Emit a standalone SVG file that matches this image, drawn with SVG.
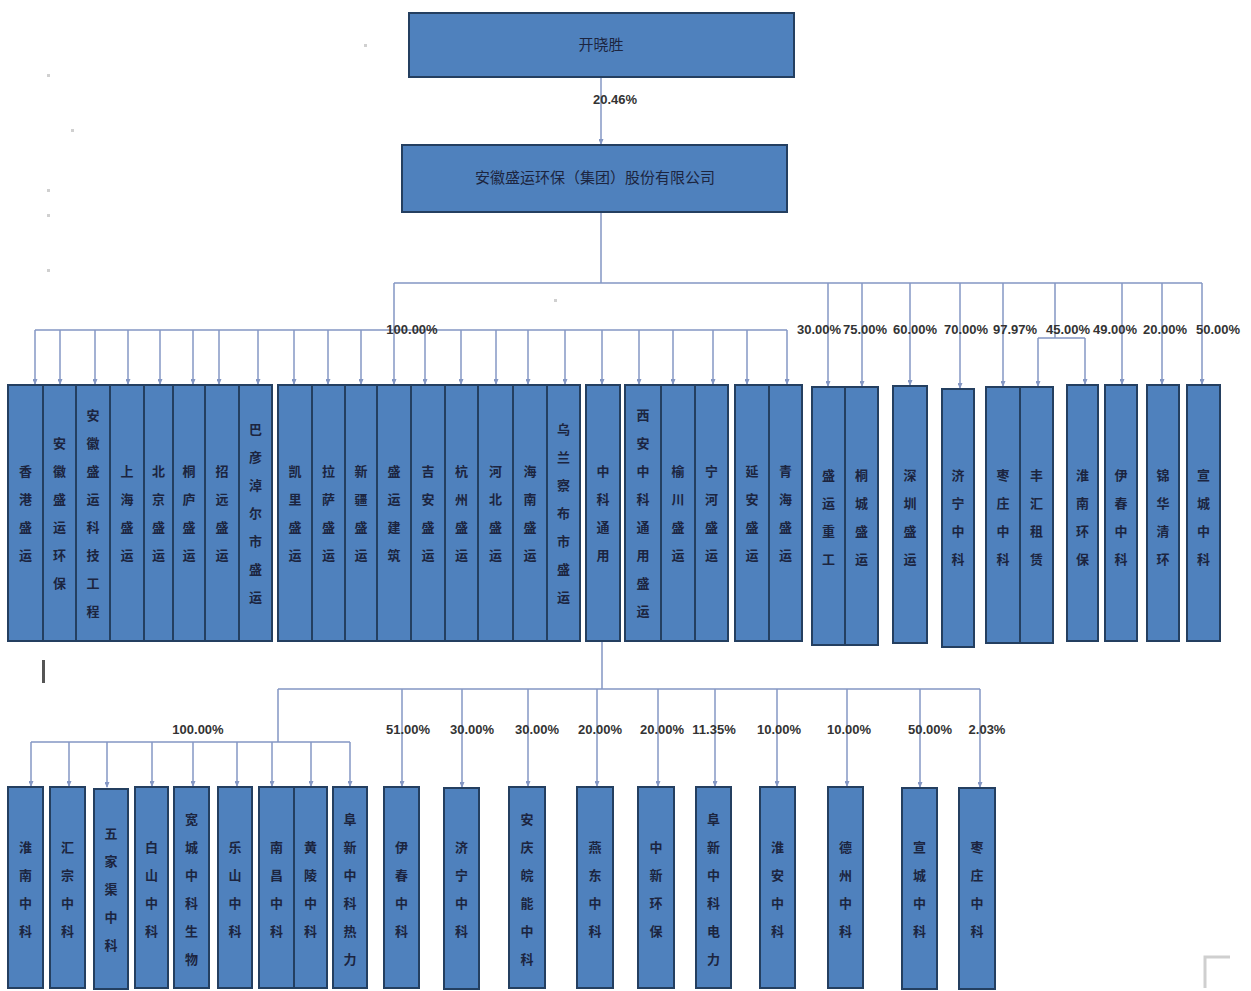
<svg xmlns="http://www.w3.org/2000/svg" width="1251" height="991" viewBox="0 0 1251 991">
<style>
.b{fill:#4f81bd;stroke:#243f60;stroke-width:2}
.t{font-family:"Noto Sans CJK SC","Noto Sans",sans-serif;font-size:15px;fill:#1c2540}
.v{font-family:"Noto Sans CJK SC","Noto Sans",sans-serif;font-size:13px;font-weight:bold;fill:#1c2540;text-anchor:middle;dominant-baseline:central}
.p{font-family:"Liberation Sans",Arial,sans-serif;font-size:13px;font-weight:bold;fill:#333;text-anchor:middle}
.c{fill:none;stroke:#8497c4;stroke-width:1.5}
.m{fill:#d0d0d0}
</style>
<defs>
<marker id="a" markerWidth="6" markerHeight="5" refX="5" refY="2.5" orient="auto" markerUnits="userSpaceOnUse">
<path d="M0,0 L6,2.5 L0,5 z" fill="#8497c4"/>
</marker>
</defs>
<rect width="1251" height="991" fill="#fff"/>
<g id="marks">
<rect class="m" x="47" y="74" width="3" height="3"/>
<rect class="m" x="71" y="129" width="3" height="3"/>
<rect class="m" x="47" y="189" width="3" height="3"/>
<rect class="m" x="47" y="214" width="3" height="3"/>
<rect class="m" x="47" y="269" width="3" height="3"/>
<rect class="m" x="364" y="44" width="3" height="3"/>
<rect class="m" x="554" y="299" width="3" height="3"/>
<rect x="42" y="660" width="3" height="23" fill="#555"/>
<path d="M1205,988 V957 H1230" fill="none" stroke="#cfcfcf" stroke-width="3"/>
</g>
<g id="connectors">
<path class="c" d="M601,77 V144" marker-end="url(#a)"/>
<path class="c" d="M601,212 V283 M394,283 H1202 M394,283 V330 M35,330 H787"/>
<g marker-end="url(#a)">
<path class="c" d="M35,330 V384"/><path class="c" d="M60,330 V384"/><path class="c" d="M95,330 V384"/><path class="c" d="M128,330 V384"/><path class="c" d="M160,330 V384"/><path class="c" d="M193,330 V384"/><path class="c" d="M219,330 V384"/><path class="c" d="M258,330 V384"/><path class="c" d="M294,330 V384"/><path class="c" d="M328,330 V384"/><path class="c" d="M361,330 V384"/><path class="c" d="M394,330 V384"/><path class="c" d="M425,330 V384"/><path class="c" d="M461,330 V384"/><path class="c" d="M496,330 V384"/><path class="c" d="M528,330 V384"/><path class="c" d="M565,330 V384"/><path class="c" d="M602,330 V384"/><path class="c" d="M639,330 V384"/><path class="c" d="M673,330 V384"/><path class="c" d="M713,330 V384"/><path class="c" d="M747,330 V384"/><path class="c" d="M787,330 V384"/>
<path class="c" d="M828,283 V386"/><path class="c" d="M862,283 V386"/><path class="c" d="M910,283 V385"/><path class="c" d="M960,283 V388"/><path class="c" d="M1003,283 V386"/><path class="c" d="M1122,283 V384"/><path class="c" d="M1162,283 V384"/><path class="c" d="M1202,283 V384"/>
<path class="c" d="M1038,338 V386"/><path class="c" d="M1085,338 V384"/>
</g>
<path class="c" d="M1055,283 V338 M1038,338 H1085"/>
<path class="c" d="M602,641 V689 M278,689 H980 M278,689 V742 M31,742 H350"/>
<g marker-end="url(#a)">
<path class="c" d="M31,742 V786"/><path class="c" d="M69,742 V786"/><path class="c" d="M107,742 V787"/><path class="c" d="M152,742 V786"/><path class="c" d="M193,742 V786"/><path class="c" d="M237,742 V786"/><path class="c" d="M272,742 V786"/><path class="c" d="M311,742 V786"/><path class="c" d="M350,742 V786"/>
<path class="c" d="M402,689 V786"/><path class="c" d="M462,689 V787"/><path class="c" d="M528,689 V786"/><path class="c" d="M597,689 V786"/><path class="c" d="M658,689 V786"/><path class="c" d="M715,689 V786"/><path class="c" d="M777,689 V786"/><path class="c" d="M847,689 V786"/><path class="c" d="M920,689 V787"/><path class="c" d="M980,689 V787"/>
</g>
</g>
<g id="labels">
<text class="p" x="615" y="104">20.46%</text>
<text class="p" x="412" y="334">100.00%</text>
<text class="p" x="819" y="334">30.00%</text>
<text class="p" x="865" y="334">75.00%</text>
<text class="p" x="915" y="334">60.00%</text>
<text class="p" x="966" y="334">70.00%</text>
<text class="p" x="1015" y="334">97.97%</text>
<text class="p" x="1068" y="334">45.00%</text>
<text class="p" x="1115" y="334">49.00%</text>
<text class="p" x="1165" y="334">20.00%</text>
<text class="p" x="1218" y="334">50.00%</text>
<text class="p" x="198" y="734">100.00%</text>
<text class="p" x="408" y="734">51.00%</text>
<text class="p" x="472" y="734">30.00%</text>
<text class="p" x="537" y="734">30.00%</text>
<text class="p" x="600" y="734">20.00%</text>
<text class="p" x="662" y="734">20.00%</text>
<text class="p" x="714" y="734">11.35%</text>
<text class="p" x="779" y="734">10.00%</text>
<text class="p" x="849" y="734">10.00%</text>
<text class="p" x="930" y="734">50.00%</text>
<text class="p" x="987" y="734">2.03%</text>
</g>
<g id="n0"><rect class="b" x="409" y="13" width="385" height="64"/><text class="t" x="601" y="50" text-anchor="middle">开晓胜</text></g>
<g id="n1"><rect class="b" x="402" y="145" width="385" height="67"/><text class="t" x="595" y="183" text-anchor="middle">安徽盛运环保（集团）股份有限公司</text></g>
<g id="t1"><rect class="b" x="8" y="385" width="35" height="256"/><text class="v"><tspan x="25.5" y="470">香</tspan><tspan x="25.5" y="498">港</tspan><tspan x="25.5" y="526">盛</tspan><tspan x="25.5" y="554">运</tspan></text></g>
<g id="t2"><rect class="b" x="43" y="385" width="33" height="256"/><text class="v"><tspan x="59.5" y="442">安</tspan><tspan x="59.5" y="470">徽</tspan><tspan x="59.5" y="498">盛</tspan><tspan x="59.5" y="526">运</tspan><tspan x="59.5" y="554">环</tspan><tspan x="59.5" y="582">保</tspan></text></g>
<g id="t3"><rect class="b" x="76" y="385" width="34" height="256"/><text class="v"><tspan x="93" y="414">安</tspan><tspan x="93" y="442">徽</tspan><tspan x="93" y="470">盛</tspan><tspan x="93" y="498">运</tspan><tspan x="93" y="526">科</tspan><tspan x="93" y="554">技</tspan><tspan x="93" y="582">工</tspan><tspan x="93" y="610">程</tspan></text></g>
<g id="t4"><rect class="b" x="110" y="385" width="34" height="256"/><text class="v"><tspan x="127" y="470">上</tspan><tspan x="127" y="498">海</tspan><tspan x="127" y="526">盛</tspan><tspan x="127" y="554">运</tspan></text></g>
<g id="t5"><rect class="b" x="144" y="385" width="29" height="256"/><text class="v"><tspan x="158.5" y="470">北</tspan><tspan x="158.5" y="498">京</tspan><tspan x="158.5" y="526">盛</tspan><tspan x="158.5" y="554">运</tspan></text></g>
<g id="t6"><rect class="b" x="173" y="385" width="32" height="256"/><text class="v"><tspan x="189" y="470">桐</tspan><tspan x="189" y="498">庐</tspan><tspan x="189" y="526">盛</tspan><tspan x="189" y="554">运</tspan></text></g>
<g id="t7"><rect class="b" x="205" y="385" width="34" height="256"/><text class="v"><tspan x="222" y="470">招</tspan><tspan x="222" y="498">远</tspan><tspan x="222" y="526">盛</tspan><tspan x="222" y="554">运</tspan></text></g>
<g id="t8"><rect class="b" x="239" y="385" width="33" height="256"/><text class="v"><tspan x="255.5" y="428">巴</tspan><tspan x="255.5" y="456">彦</tspan><tspan x="255.5" y="484">淖</tspan><tspan x="255.5" y="512">尔</tspan><tspan x="255.5" y="540">市</tspan><tspan x="255.5" y="568">盛</tspan><tspan x="255.5" y="596">运</tspan></text></g>
<g id="t9"><rect class="b" x="278" y="385" width="34" height="256"/><text class="v"><tspan x="295" y="470">凯</tspan><tspan x="295" y="498">里</tspan><tspan x="295" y="526">盛</tspan><tspan x="295" y="554">运</tspan></text></g>
<g id="t10"><rect class="b" x="312" y="385" width="33" height="256"/><text class="v"><tspan x="328.5" y="470">拉</tspan><tspan x="328.5" y="498">萨</tspan><tspan x="328.5" y="526">盛</tspan><tspan x="328.5" y="554">运</tspan></text></g>
<g id="t11"><rect class="b" x="345" y="385" width="32" height="256"/><text class="v"><tspan x="361" y="470">新</tspan><tspan x="361" y="498">疆</tspan><tspan x="361" y="526">盛</tspan><tspan x="361" y="554">运</tspan></text></g>
<g id="t12"><rect class="b" x="377" y="385" width="34" height="256"/><text class="v"><tspan x="394" y="470">盛</tspan><tspan x="394" y="498">运</tspan><tspan x="394" y="526">建</tspan><tspan x="394" y="554">筑</tspan></text></g>
<g id="t13"><rect class="b" x="411" y="385" width="34" height="256"/><text class="v"><tspan x="428" y="470">吉</tspan><tspan x="428" y="498">安</tspan><tspan x="428" y="526">盛</tspan><tspan x="428" y="554">运</tspan></text></g>
<g id="t14"><rect class="b" x="445" y="385" width="33" height="256"/><text class="v"><tspan x="461.5" y="470">杭</tspan><tspan x="461.5" y="498">州</tspan><tspan x="461.5" y="526">盛</tspan><tspan x="461.5" y="554">运</tspan></text></g>
<g id="t15"><rect class="b" x="478" y="385" width="35" height="256"/><text class="v"><tspan x="495.5" y="470">河</tspan><tspan x="495.5" y="498">北</tspan><tspan x="495.5" y="526">盛</tspan><tspan x="495.5" y="554">运</tspan></text></g>
<g id="t16"><rect class="b" x="513" y="385" width="34" height="256"/><text class="v"><tspan x="530" y="470">海</tspan><tspan x="530" y="498">南</tspan><tspan x="530" y="526">盛</tspan><tspan x="530" y="554">运</tspan></text></g>
<g id="t17"><rect class="b" x="547" y="385" width="33" height="256"/><text class="v"><tspan x="563.5" y="428">乌</tspan><tspan x="563.5" y="456">兰</tspan><tspan x="563.5" y="484">察</tspan><tspan x="563.5" y="512">布</tspan><tspan x="563.5" y="540">市</tspan><tspan x="563.5" y="568">盛</tspan><tspan x="563.5" y="596">运</tspan></text></g>
<g id="t18"><rect class="b" x="586" y="385" width="34" height="256"/><text class="v"><tspan x="603" y="470">中</tspan><tspan x="603" y="498">科</tspan><tspan x="603" y="526">通</tspan><tspan x="603" y="554">用</tspan></text></g>
<g id="t19"><rect class="b" x="625" y="385" width="36" height="256"/><text class="v"><tspan x="643" y="414">西</tspan><tspan x="643" y="442">安</tspan><tspan x="643" y="470">中</tspan><tspan x="643" y="498">科</tspan><tspan x="643" y="526">通</tspan><tspan x="643" y="554">用</tspan><tspan x="643" y="582">盛</tspan><tspan x="643" y="610">运</tspan></text></g>
<g id="t20"><rect class="b" x="661" y="385" width="34" height="256"/><text class="v"><tspan x="678" y="470">榆</tspan><tspan x="678" y="498">川</tspan><tspan x="678" y="526">盛</tspan><tspan x="678" y="554">运</tspan></text></g>
<g id="t21"><rect class="b" x="695" y="385" width="33" height="256"/><text class="v"><tspan x="711.5" y="470">宁</tspan><tspan x="711.5" y="498">河</tspan><tspan x="711.5" y="526">盛</tspan><tspan x="711.5" y="554">运</tspan></text></g>
<g id="t22"><rect class="b" x="735" y="385" width="34" height="256"/><text class="v"><tspan x="752" y="470">延</tspan><tspan x="752" y="498">安</tspan><tspan x="752" y="526">盛</tspan><tspan x="752" y="554">运</tspan></text></g>
<g id="t23"><rect class="b" x="769" y="385" width="33" height="256"/><text class="v"><tspan x="785.5" y="470">青</tspan><tspan x="785.5" y="498">海</tspan><tspan x="785.5" y="526">盛</tspan><tspan x="785.5" y="554">运</tspan></text></g>
<g id="t24"><rect class="b" x="812" y="387" width="33" height="258"/><text class="v"><tspan x="828.5" y="474">盛</tspan><tspan x="828.5" y="502">运</tspan><tspan x="828.5" y="530">重</tspan><tspan x="828.5" y="558">工</tspan></text></g>
<g id="t25"><rect class="b" x="845" y="387" width="33" height="258"/><text class="v"><tspan x="861.5" y="474">桐</tspan><tspan x="861.5" y="502">城</tspan><tspan x="861.5" y="530">盛</tspan><tspan x="861.5" y="558">运</tspan></text></g>
<g id="t26"><rect class="b" x="893" y="386" width="34" height="257"/><text class="v"><tspan x="910" y="474">深</tspan><tspan x="910" y="502">圳</tspan><tspan x="910" y="530">盛</tspan><tspan x="910" y="558">运</tspan></text></g>
<g id="t27"><rect class="b" x="942" y="389" width="32" height="258"/><text class="v"><tspan x="958" y="474">济</tspan><tspan x="958" y="502">宁</tspan><tspan x="958" y="530">中</tspan><tspan x="958" y="558">科</tspan></text></g>
<g id="t28"><rect class="b" x="986" y="387" width="34" height="256"/><text class="v"><tspan x="1003" y="474">枣</tspan><tspan x="1003" y="502">庄</tspan><tspan x="1003" y="530">中</tspan><tspan x="1003" y="558">科</tspan></text></g>
<g id="t29"><rect class="b" x="1020" y="387" width="33" height="256"/><text class="v"><tspan x="1036.5" y="474">丰</tspan><tspan x="1036.5" y="502">汇</tspan><tspan x="1036.5" y="530">租</tspan><tspan x="1036.5" y="558">赁</tspan></text></g>
<g id="t30"><rect class="b" x="1067" y="385" width="31" height="256"/><text class="v"><tspan x="1082.5" y="474">淮</tspan><tspan x="1082.5" y="502">南</tspan><tspan x="1082.5" y="530">环</tspan><tspan x="1082.5" y="558">保</tspan></text></g>
<g id="t31"><rect class="b" x="1105" y="385" width="32" height="256"/><text class="v"><tspan x="1121" y="474">伊</tspan><tspan x="1121" y="502">春</tspan><tspan x="1121" y="530">中</tspan><tspan x="1121" y="558">科</tspan></text></g>
<g id="t32"><rect class="b" x="1147" y="385" width="32" height="256"/><text class="v"><tspan x="1163" y="474">锦</tspan><tspan x="1163" y="502">华</tspan><tspan x="1163" y="530">清</tspan><tspan x="1163" y="558">环</tspan></text></g>
<g id="t33"><rect class="b" x="1187" y="385" width="33" height="256"/><text class="v"><tspan x="1203.5" y="474">宣</tspan><tspan x="1203.5" y="502">城</tspan><tspan x="1203.5" y="530">中</tspan><tspan x="1203.5" y="558">科</tspan></text></g>
<g id="b1"><rect class="b" x="8" y="787" width="35" height="201"/><text class="v"><tspan x="25.5" y="846">淮</tspan><tspan x="25.5" y="874">南</tspan><tspan x="25.5" y="902">中</tspan><tspan x="25.5" y="930">科</tspan></text></g>
<g id="b2"><rect class="b" x="50" y="787" width="35" height="201"/><text class="v"><tspan x="67.5" y="846">汇</tspan><tspan x="67.5" y="874">宗</tspan><tspan x="67.5" y="902">中</tspan><tspan x="67.5" y="930">科</tspan></text></g>
<g id="b3"><rect class="b" x="94" y="789" width="34" height="200"/><text class="v"><tspan x="111" y="832">五</tspan><tspan x="111" y="860">家</tspan><tspan x="111" y="888">渠</tspan><tspan x="111" y="916">中</tspan><tspan x="111" y="944">科</tspan></text></g>
<g id="b4"><rect class="b" x="135" y="787" width="33" height="201"/><text class="v"><tspan x="151.5" y="846">白</tspan><tspan x="151.5" y="874">山</tspan><tspan x="151.5" y="902">中</tspan><tspan x="151.5" y="930">科</tspan></text></g>
<g id="b5"><rect class="b" x="174" y="787" width="35" height="201"/><text class="v"><tspan x="191.5" y="818">宽</tspan><tspan x="191.5" y="846">城</tspan><tspan x="191.5" y="874">中</tspan><tspan x="191.5" y="902">科</tspan><tspan x="191.5" y="930">生</tspan><tspan x="191.5" y="958">物</tspan></text></g>
<g id="b6"><rect class="b" x="218" y="787" width="34" height="201"/><text class="v"><tspan x="235" y="846">乐</tspan><tspan x="235" y="874">山</tspan><tspan x="235" y="902">中</tspan><tspan x="235" y="930">科</tspan></text></g>
<g id="b7"><rect class="b" x="259" y="787" width="35" height="201"/><text class="v"><tspan x="276.5" y="846">南</tspan><tspan x="276.5" y="874">昌</tspan><tspan x="276.5" y="902">中</tspan><tspan x="276.5" y="930">科</tspan></text></g>
<g id="b8"><rect class="b" x="294" y="787" width="33" height="201"/><text class="v"><tspan x="310.5" y="846">黄</tspan><tspan x="310.5" y="874">陵</tspan><tspan x="310.5" y="902">中</tspan><tspan x="310.5" y="930">科</tspan></text></g>
<g id="b9"><rect class="b" x="333" y="787" width="34" height="201"/><text class="v"><tspan x="350" y="818">阜</tspan><tspan x="350" y="846">新</tspan><tspan x="350" y="874">中</tspan><tspan x="350" y="902">科</tspan><tspan x="350" y="930">热</tspan><tspan x="350" y="958">力</tspan></text></g>
<g id="b10"><rect class="b" x="384" y="787" width="35" height="201"/><text class="v"><tspan x="401.5" y="846">伊</tspan><tspan x="401.5" y="874">春</tspan><tspan x="401.5" y="902">中</tspan><tspan x="401.5" y="930">科</tspan></text></g>
<g id="b11"><rect class="b" x="444" y="788" width="35" height="201"/><text class="v"><tspan x="461.5" y="846">济</tspan><tspan x="461.5" y="874">宁</tspan><tspan x="461.5" y="902">中</tspan><tspan x="461.5" y="930">科</tspan></text></g>
<g id="b12"><rect class="b" x="509" y="787" width="36" height="201"/><text class="v"><tspan x="527" y="818">安</tspan><tspan x="527" y="846">庆</tspan><tspan x="527" y="874">皖</tspan><tspan x="527" y="902">能</tspan><tspan x="527" y="930">中</tspan><tspan x="527" y="958">科</tspan></text></g>
<g id="b13"><rect class="b" x="577" y="787" width="36" height="201"/><text class="v"><tspan x="595" y="846">燕</tspan><tspan x="595" y="874">东</tspan><tspan x="595" y="902">中</tspan><tspan x="595" y="930">科</tspan></text></g>
<g id="b14"><rect class="b" x="638" y="787" width="36" height="201"/><text class="v"><tspan x="656" y="846">中</tspan><tspan x="656" y="874">新</tspan><tspan x="656" y="902">环</tspan><tspan x="656" y="930">保</tspan></text></g>
<g id="b15"><rect class="b" x="696" y="787" width="35" height="201"/><text class="v"><tspan x="713.5" y="818">阜</tspan><tspan x="713.5" y="846">新</tspan><tspan x="713.5" y="874">中</tspan><tspan x="713.5" y="902">科</tspan><tspan x="713.5" y="930">电</tspan><tspan x="713.5" y="958">力</tspan></text></g>
<g id="b16"><rect class="b" x="760" y="787" width="35" height="201"/><text class="v"><tspan x="777.5" y="846">淮</tspan><tspan x="777.5" y="874">安</tspan><tspan x="777.5" y="902">中</tspan><tspan x="777.5" y="930">科</tspan></text></g>
<g id="b17"><rect class="b" x="828" y="787" width="35" height="201"/><text class="v"><tspan x="845.5" y="846">德</tspan><tspan x="845.5" y="874">州</tspan><tspan x="845.5" y="902">中</tspan><tspan x="845.5" y="930">科</tspan></text></g>
<g id="b18"><rect class="b" x="902" y="788" width="35" height="201"/><text class="v"><tspan x="919.5" y="846">宣</tspan><tspan x="919.5" y="874">城</tspan><tspan x="919.5" y="902">中</tspan><tspan x="919.5" y="930">科</tspan></text></g>
<g id="b19"><rect class="b" x="959" y="788" width="36" height="201"/><text class="v"><tspan x="977" y="846">枣</tspan><tspan x="977" y="874">庄</tspan><tspan x="977" y="902">中</tspan><tspan x="977" y="930">科</tspan></text></g>
</svg>
